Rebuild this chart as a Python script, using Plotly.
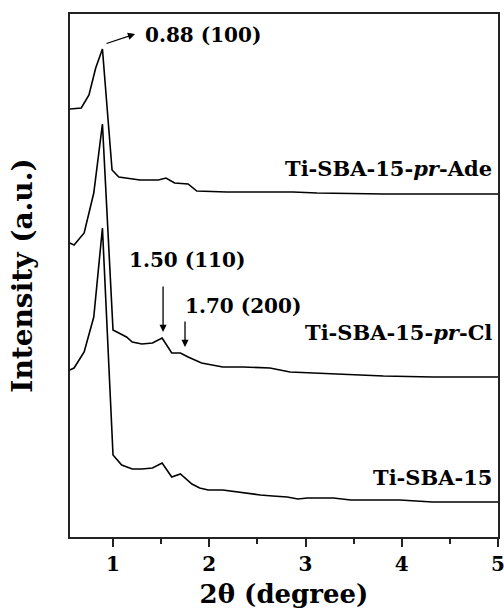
import plotly.graph_objects as go

# 2theta (degree) and intensity (a.u., offset stacked)
x_ade = [0.55, 0.67, 0.75, 0.82, 0.89, 0.99, 1.06, 1.14, 1.28, 1.47, 1.55, 1.64, 1.78, 1.87, 2.18, 2.63, 2.87, 3.12, 3.81, 5.0]
y_ade = [428, 429, 442, 469, 488, 367, 360, 359, 357, 357, 359, 354, 353, 346, 345, 345, 345, 344, 343, 343]

x_cl = [0.55, 0.595, 0.70, 0.80, 0.89, 1.00, 1.14, 1.20, 1.30, 1.41, 1.51, 1.61, 1.70, 1.78, 1.92, 2.14, 2.35, 2.63, 2.84, 3.12, 3.81, 4.32, 5.0]
y_cl = [294, 292, 304, 344, 413, 207, 200, 195, 193, 194, 199, 184, 184, 180, 174, 170, 170, 169, 165, 164, 161, 160, 160]

x_ti = [0.55, 0.595, 0.70, 0.80, 0.89, 1.00, 1.09, 1.20, 1.30, 1.41, 1.51, 1.61, 1.70, 1.82, 1.90, 1.99, 2.14, 2.30, 2.40, 2.53, 2.66, 2.81, 2.92, 3.02, 3.12, 3.29, 3.47, 3.64, 3.98, 4.32, 4.68, 5.0]
y_ti = [167, 169, 185, 220, 309, 82, 72, 68, 68, 69, 74, 60, 63, 53, 49, 47, 47, 45, 43, 42, 41, 40, 38, 39, 39, 39, 37, 37, 37, 35, 35, 35]

series_names = ["Ti-SBA-15-<i>pr</i>-Ade", "Ti-SBA-15-<i>pr</i>-Cl", "Ti-SBA-15"]
label_y = [369, 205, 60]

peak_labels = ["0.88 (100)", "1.50 (110)", "1.70 (200)"]

tick_vals = [1, 2, 3, 4, 5]

FONT = "DejaVu Serif"

fig = go.Figure()
for xs, ys, nm in [(x_ade, y_ade, series_names[0]), (x_cl, y_cl, series_names[1]), (x_ti, y_ti, series_names[2])]:
    fig.add_trace(go.Scatter(x=xs, y=ys, mode="lines", name=nm,
                             line=dict(color="black", width=1.6), showlegend=False))

# series labels
for nm, ly in zip(series_names, label_y):
    fig.add_annotation(x=4.96, y=ly, xref="x", yref="y", text="<b>" + nm + "</b>",
                       showarrow=False, xanchor="right", yanchor="middle",
                       font=dict(family=FONT, size=21, color="black"))

# peak labels
fig.add_annotation(x=1.31, y=502, xref="x", yref="y", text="<b>" + peak_labels[0] + "</b>",
                   showarrow=False, xanchor="left", yanchor="middle",
                   font=dict(family=FONT, size=20, color="black"))
fig.add_annotation(x=1.15, y=277, xref="x", yref="y", text="<b>" + peak_labels[1] + "</b>",
                   showarrow=False, xanchor="left", yanchor="middle",
                   font=dict(family=FONT, size=20, color="black"))
fig.add_annotation(x=1.73, y=231, xref="x", yref="y", text="<b>" + peak_labels[2] + "</b>",
                   showarrow=False, xanchor="left", yanchor="middle",
                   font=dict(family=FONT, size=20, color="black"))

# arrows
arrows = [((0.917, 493), (1.229, 503)), ((1.52, 252), (1.52, 205)), ((1.748, 217), (1.748, 190))]
for (tx, ty), (hx, hy) in arrows:
    fig.add_annotation(x=hx, y=hy, ax=tx, ay=ty, xref="x", yref="y", axref="x", ayref="y",
                       text="", showarrow=True, arrowhead=2, arrowsize=1.1, arrowwidth=1.3,
                       arrowcolor="black", standoff=0, startstandoff=0)

fig.update_layout(
    width=504, height=612,
    margin=dict(l=70, r=6, t=14, b=75),
    paper_bgcolor="white", plot_bgcolor="white",
    font=dict(family=FONT, color="black"),
)
fig.update_xaxes(
    range=[0.553, 5.0], tickvals=tick_vals, ticktext=[str(v) for v in tick_vals],
    ticks="outside", ticklen=8, tickwidth=1.5, tickcolor="#222",
    minor=dict(tickvals=[1.5, 2.5, 3.5, 4.5], ticks="outside", ticklen=5, tickwidth=1.5, tickcolor="#222"),
    showline=True, linecolor="#222", linewidth=1.6, mirror=True,
    showgrid=False, zeroline=False, automargin=False, ticklabeloverflow="allow",
    tickfont=dict(family=FONT, size=20, color="black", weight="bold"),
    title=dict(text="<b>2θ (degree)</b>", font=dict(family=FONT, size=26, color="black"), standoff=10),
)
fig.update_yaxes(
    range=[0, 523], showticklabels=False, ticks="",
    showline=True, linecolor="#222", linewidth=1.6, mirror=True,
    showgrid=False, zeroline=False, automargin=False,
    title=dict(text="<b>Intensity (a.u.)</b>", font=dict(family=FONT, size=28, color="black"), standoff=27),
)

fig.write_html("out.html", config={"displayModeBar": False},
               post_script="document.body.style.margin='0px';")
